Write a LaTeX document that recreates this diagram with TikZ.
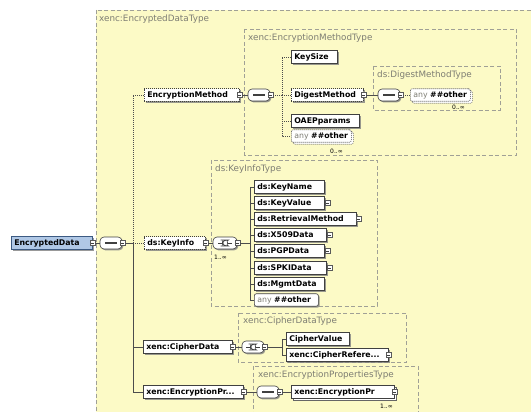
\documentclass[tikz,border=0pt]{standalone}
\usepackage{fontspec}
\setmainfont{DejaVu Sans}
\usetikzlibrary{shadows}
\definecolor{typefill}{RGB}{252,250,198}
\definecolor{typeline}{RGB}{160,160,150}
\definecolor{edfill}{RGB}{176,200,230}
\definecolor{edline}{RGB}{60,90,130}
\definecolor{lblgray}{RGB}{125,125,115}
\begin{document}
\begin{tikzpicture}[x=1pt,y=-1pt,
  typebox/.style={draw=typeline, fill=typefill, dash pattern=on 4pt off 2.5pt, line width=0.6pt},
  typelbl/.style={anchor=west, text=lblgray, font=\fontsize{8.8}{9}\selectfont, inner sep=0pt},
  el/.style={draw=black!75, fill=white, anchor=west, font=\bfseries\fontsize{7.8}{8}\selectfont,
    minimum height=12.5pt, inner xsep=3pt, inner ysep=0pt, align=left, line width=0.6pt,
    drop shadow={shadow xshift=1.3pt, shadow yshift=-1.3pt, fill=black!50, opacity=.8}},
  opt/.style={dash pattern=on 1pt off 1pt},
  multi/.style={copy shadow={shadow xshift=2pt, shadow yshift=-2pt, draw=black!60, fill=white, line width=0.6pt}},
  anyel/.style={rounded corners=2pt},
  xp/.style={draw=black!65, fill=white, minimum size=5pt, inner sep=0pt, line width=0.5pt,
    path picture={\draw[black!75, line width=0.5pt] ([xshift=1pt]path picture bounding box.west) -- ([xshift=-1pt]path picture bounding box.east);}},
  comp/.style={draw=black!75, fill=white, rounded corners=4pt, minimum width=22pt, minimum height=12pt,
    inner sep=0pt, line width=0.6pt, drop shadow={shadow xshift=1.3pt, shadow yshift=-1.3pt, fill=black!50, opacity=.8}},
  seqc/.style={comp, path picture={
    \draw[line width=1.3pt] ([xshift=5pt]path picture bounding box.west) -- ([xshift=-5pt]path picture bounding box.east);}},
  choicec/.style={comp, path picture={
    \draw[line width=0.7pt] ([xshift=-7pt]path picture bounding box.center) -- ([xshift=-2.5pt]path picture bounding box.center);
    \draw[line width=0.7pt] ([shift={(-2.5pt,3pt)}]path picture bounding box.center) -- ([shift={(-0.5pt,3pt)}]path picture bounding box.center)
      arc[start angle=90, end angle=-90, radius=3pt] -- ([shift={(-2.5pt,-3pt)}]path picture bounding box.center) -- cycle;
    \draw[line width=0.7pt] ([xshift=2.5pt]path picture bounding box.center) -- ([xshift=7pt]path picture bounding box.center);}},
  conn/.style={draw=black!70, line width=0.6pt},
  optl/.style={conn, dash pattern=on 1pt off 1pt},
  card/.style={anchor=west, inner sep=0pt, font=\fontsize{6}{7}\selectfont}
]
\useasboundingbox (0,0) rectangle (531,412);
\clip (0,0) rectangle (531,412);
\fill[white] (0,0) rectangle (531,412);

% type boxes
\draw[typebox] (96,10) rectangle (545,425);
\node[typelbl] (l0) at (99,19) {xenc:EncryptedDataType};
\draw[typebox] (244,29) rectangle (516,155);
\node[typelbl] (l1) at (248,38) {xenc:EncryptionMethodType};
\draw[typebox] (373,66) rectangle (500,110);
\node[typelbl] (l2) at (377,75) {ds:DigestMethodType};
\draw[typebox] (211,160) rectangle (377,306);
\node[typelbl] (l3) at (215,169) {ds:KeyInfoType};
\draw[typebox] (238,313) rectangle (406,362);
\node[typelbl] (l4) at (243,321) {xenc:CipherDataType};
\draw[typebox] (253,366) rectangle (418,425);
\node[typelbl] (l5) at (258,375) {xenc:EncryptionPropertiesType};

% root
\node[el, fill=edfill, draw=edline, text width=75pt] (ed) at (11,243) {EncryptedData};
\node[xp] (edx) at (ed.east) {};
\node[seqc] (s0) at (111,243) {};
\node[xp] (s0x) at (s0.east) {};
\coordinate (b0) at (133,243);

\node[el, opt, text width=89pt] (em) at (144,95) {EncryptionMethod};
\node[xp] (emx) at (em.east) {};
\node[el, opt, text width=55pt] (ki) at (144,243) {ds:KeyInfo};
\node[xp] (kix) at (ki.east) {};
\node[el, text width=83pt] (cd) at (143,347) {xenc:CipherData};
\node[xp] (cdx) at (cd.east) {};
\node[el, text width=94pt] (ep) at (143,392) {xenc:EncryptionPr...};
\node[xp] (epx) at (ep.east) {};

% EncryptionMethodType
\node[seqc] (s1) at (259,95) {};
\node[xp] (s1x) at (s1.east) {};
\coordinate (b1) at (282,95);
\node[el, text width=40pt] (ks) at (291,57) {KeySize};
\node[el, opt, text width=66pt] (dm) at (291,95) {DigestMethod};
\node[xp] (dmx) at (dm.east) {};
\node[el, text width=62pt] (op) at (291,121) {OAEPparams};
\node[el, opt, anyel, multi, text width=54pt] (an1) at (291,136) {\textcolor{lblgray}{\mdseries any} \#\#other};
\node[card] (c1a) at (330,151) {0..∞};

% DigestMethodType
\node[seqc] (s2) at (389,95) {};
\node[xp] (s2x) at (s2.east) {};
\node[el, opt, anyel, multi, text width=54pt] (an2) at (410,95) {\textcolor{lblgray}{\mdseries any} \#\#other};
\node[card] (c2a) at (452,107) {0..∞};

% KeyInfoType
\node[choicec, minimum width=24pt] (ch1) at (225,243) {};
\node[xp] (ch1x) at (ch1.east) {};
\node[card] (c3a) at (214,257) {1..∞};
\coordinate (b2) at (250,243);
\node[el, text width=64pt] (kn) at (254,187) {ds:KeyName};
\node[el, text width=64pt] (kv) at (254,203) {ds:KeyValue};
\node[xp] (kvx) at ([xshift=3pt]kv.east) {};
\node[el, text width=96pt] (rm) at (254,219) {ds:RetrievalMethod};
\node[xp] (rmx) at ([xshift=2pt]rm.east) {};
\node[el, text width=66pt] (x5) at (254,235) {ds:X509Data};
\node[xp] (x5x) at ([xshift=3pt]x5.east) {};
\node[el, text width=64pt] (pg) at (254,251) {ds:PGPData};
\node[xp] (pgx) at ([xshift=3pt]pg.east) {};
\node[el, text width=66pt] (sp) at (254,268) {ds:SPKIData};
\node[xp] (spx) at ([xshift=3pt]sp.east) {};
\node[el, text width=64pt] (mg) at (254,284) {ds:MgmtData};
\node[el, anyel, text width=58pt] (an3) at (254,300) {\textcolor{lblgray}{\mdseries any} \#\#other};

% CipherDataType
\node[choicec] (ch2) at (253,347) {};
\node[xp] (ch2x) at (ch2.east) {};
\coordinate (b3) at (282,347);
\node[el, text width=57pt] (cv) at (286,339) {CipherValue};
\node[el, text width=96pt] (cr) at (286,355) {xenc:CipherRefere...};
\node[xp] (crx) at (cr.east) {};

% EncryptionPropertiesType
\node[seqc] (s3) at (268,392) {};
\node[xp] (s3x) at (s3.east) {};
\node[el, multi, text width=97pt] (epc) at (291,392) {xenc:EncryptionPr};
\node[xp] (epcx) at (epc.east) {};
\node[card] (c4a) at (380,406) {1..∞};

% connectors
\draw[conn] (edx.east) -- (s0.west);
\draw[conn] (s0x.east) -- (b0);
\draw[optl] (b0) |- (em.west);
\draw[optl] (b0) -- (ki.west);
\draw[conn] (b0) |- (cd.west);
\draw[conn] (b0) |- (ep.west);

\draw[conn] (emx.east) -- (s1.west);
\draw[optl] (s1x.east) -- (b1);
\draw[optl] (b1) |- (ks.west);
\draw[optl] (b1) -- (dm.west);
\draw[optl] (b1) |- (op.west);
\draw[optl] (b1) |- (an1.west);
\draw[conn] (dmx.east) -- (s2.west);
\draw[optl] (s2x.east) -- (an2.west);

\draw[conn] (kix.east) -- (ch1.west);
\draw[conn] (ch1x.east) -- (b2);
\foreach \n in {kn,kv,rm,x5,pg,sp,mg,an3} \draw[conn] (b2) |- (\n.west);

\draw[conn] (cdx.east) -- (ch2.west);
\draw[conn] (ch2x.east) -- (b3);
\draw[conn] (b3) |- (cv.west);
\draw[conn] (b3) |- (cr.west);

\draw[conn] (epx.east) -- (s3.west);
\draw[conn] (s3x.east) -- (epc.west);
\end{tikzpicture}
\end{document}
